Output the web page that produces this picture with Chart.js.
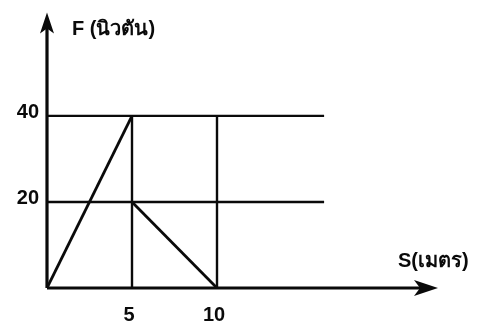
<!DOCTYPE html>
<html lang="th">
<head>
    <meta charset="UTF-8">
    <title>F-S graph</title>
    <script src="https://cdn.jsdelivr.net/npm/chart.js"></script>
    <style>
        html, body { margin: 0; padding: 0; background: #fff; }
        .chart-box { position: relative; width: 484px; height: 327px; }
    </style>
</head>
<body>
    <div class="chart-box">
        <canvas id="fsChart"></canvas>
    </div>
    <script>
        // ข้อมูลจากกราฟ
        const rampS = [0, 5];
        const rampF = [0, 40];
        const dropS = [5, 10];
        const dropF = [20, 0];
        const levelF = [20, 40];      // เส้นแนวนอน
        const levelEndS = 16.3;
        const markS = [5, 10];        // เส้นแนวตั้ง
        const markTopF = 40;
        const fTicks = ['20', '40'];
        const sTicks = ['5', '10'];
        const axisEndS = 23;
        const axisEndF = 64;
        const fTitle = 'F (นิวตัน)';
        const sTitle = 'S(เมตร)';

        const pts = (xs, ys) => xs.map((x, i) => ({ x: x, y: ys[i] }));
        const ink = '#0a0a0a';

        const datasets = [];
        const seg = (data, w) => datasets.push({
            data: data, showLine: true, borderColor: ink, borderWidth: w,
            pointRadius: 0, fill: false, tension: 0
        });
        levelF.forEach(f => seg(pts([0, levelEndS], [f, f]), 2.4));
        markS.forEach(s => seg(pts([s, s], [0, markTopF]), 2.4));
        seg(pts(rampS, rampF), 2.8);
        seg(pts(dropS, dropF), 2.8);

        // แกนพร้อมหัวลูกศร ตัวเลข และชื่อแกน
        const axesPlugin = {
            id: 'axesPlugin',
            afterDatasetsDraw(chart) {
                const ctx = chart.ctx;
                const xs = chart.scales.x, ys = chart.scales.y;
                const x0 = xs.getPixelForValue(0), y0 = ys.getPixelForValue(0);
                const xEnd = xs.getPixelForValue(axisEndS), yEnd = ys.getPixelForValue(axisEndF);
                ctx.save();
                ctx.strokeStyle = ink;
                ctx.fillStyle = ink;
                ctx.lineWidth = 3.2;
                ctx.beginPath();
                ctx.moveTo(x0, y0); ctx.lineTo(x0, yEnd + 8);
                ctx.moveTo(x0, y0); ctx.lineTo(xEnd - 8, y0);
                ctx.stroke();
                // หัวลูกศรแกน F
                ctx.beginPath();
                ctx.moveTo(x0, yEnd);
                ctx.lineTo(x0 - 7, yEnd + 21);
                ctx.lineTo(x0, yEnd + 16);
                ctx.lineTo(x0 + 7, yEnd + 21);
                ctx.closePath();
                ctx.fill();
                // หัวลูกศรแกน S
                ctx.beginPath();
                ctx.moveTo(xEnd, y0);
                ctx.lineTo(xEnd - 24, y0 - 8);
                ctx.lineTo(xEnd - 18, y0);
                ctx.lineTo(xEnd - 24, y0 + 8);
                ctx.closePath();
                ctx.fill();

                ctx.font = 'bold 20px "Liberation Sans", Arial, sans-serif';
                ctx.textBaseline = 'middle';
                ctx.textAlign = 'right';
                fTicks.forEach(t => ctx.fillText(t, x0 - 8, ys.getPixelForValue(Number(t)) - 3));
                ctx.textAlign = 'center';
                sTicks.forEach(t => ctx.fillText(t, xs.getPixelForValue(Number(t)) - 3, y0 + 27));

                ctx.textAlign = 'left';
                ctx.fillText(fTitle, x0 + 25, yEnd + 17);
                ctx.fillText(sTitle, xEnd - 40, y0 - 27);
                ctx.restore();
            }
        };

        new Chart(document.getElementById('fsChart'), {
            type: 'scatter',
            data: { datasets: datasets },
            options: {
                responsive: true,
                maintainAspectRatio: false,
                animation: false,
                layout: { padding: { left: 47, right: 12, top: 4, bottom: 39 } },
                scales: {
                    x: { type: 'linear', min: 0, max: 25, display: false },
                    y: { type: 'linear', min: 0, max: 66, display: false }
                },
                plugins: { legend: { display: false }, tooltip: { enabled: false } }
            },
            plugins: [axesPlugin]
        });
    </script>
</body>
</html>
